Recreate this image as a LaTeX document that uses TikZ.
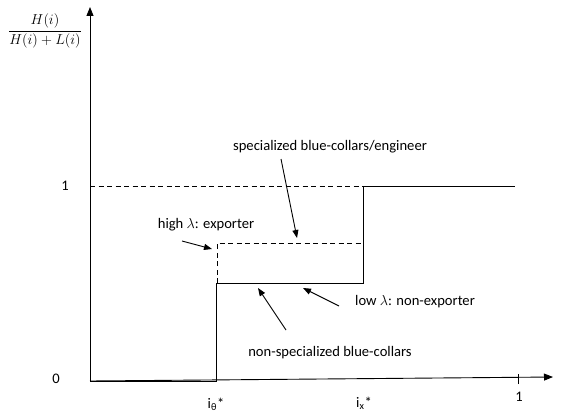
\documentclass[tikz,border=0pt]{standalone}
\usepackage{amsmath}
\usepackage{fontspec}
\setmainfont{Carlito}
\usetikzlibrary{arrows.meta}
\begin{document}
\begin{tikzpicture}[x=1pt,y=-1pt,
  lbl/.style={font=\fontsize{14.6}{17}\selectfont, inner sep=0pt},
  curve/.style={line width=0.9pt},
  dsh/.style={line width=0.8pt, dash pattern=on 5pt off 3.5pt},
  axis/.style={line width=0.9pt, -{Triangle[length=9pt,width=7pt]}},
  ptr/.style={line width=0.9pt, -{Triangle[length=8pt,width=6pt]}}]
\useasboundingbox (0,0) rectangle (564,412);
% axes
\coordinate (O) at (90,381);
\coordinate (ytop) at (90,7);
\coordinate (xend) at (553,377);
\draw[axis] (O) -- (ytop);
\draw[axis] (O) -- (xend);
\coordinate (t1) at (518,379);
\draw[line width=0.6pt] ([yshift=-5pt]t1) -- ([yshift=5pt]t1);
% labels on axes
\node[inner sep=0pt] (frac) at (45,31) {\fontsize{14.2}{17}\selectfont$\dfrac{H(i)}{H(i)+L(i)}$};
\node[lbl] (one) at (65,186) {1};
\node[lbl] (zero) at (56,379) {0};
\node[lbl] (ith) at (216,404) {i\textsubscript{θ}*};
\node[lbl] (ix) at (364,403) {i\textsubscript{x}*};
\node[lbl] (xone) at (519,397) {1};
% key coordinates
\coordinate (a) at (216,381);
\coordinate (b) at (216,283);
\coordinate (c) at (363,283);
\coordinate (d) at (363,186);
\coordinate (e) at (515,186);
\coordinate (f) at (90,186);
\coordinate (g) at (217,283);
\coordinate (h) at (217,243);
\coordinate (k) at (363,243);
% solid curve
\draw[curve] (O) -- (a) -- (b) -- (c) -- (d) -- (e);
% dashed
\draw[dsh] (f) -- (d);
\draw[dsh] (g) -- (h) -- (k);
% texts
\node[lbl] (spec) at (330,147) {specialized blue-collars/engineer};
\node[lbl] (high) at (206,225) {high $\lambda$: exporter};
\node[lbl] (low) at (415,302) {low $\lambda$: non-exporter};
\node[lbl] (nonspec) at (330,353) {non-specialized blue-collars};
% pointers
\coordinate (p1s) at (281,159);
\coordinate (p1e) at (297,238);
\draw[ptr] (p1s) -- (p1e);
\coordinate (p2s) at (182,241);
\coordinate (p2e) at (212,249);
\draw[ptr] (p2s) -- (p2e);
\coordinate (p3s) at (339,306);
\coordinate (p3e) at (303,288);
\draw[ptr] (p3s) -- (p3e);
\coordinate (p4s) at (286,330);
\coordinate (p4e) at (258,288);
\draw[ptr] (p4s) -- (p4e);
\end{tikzpicture}
\end{document}
